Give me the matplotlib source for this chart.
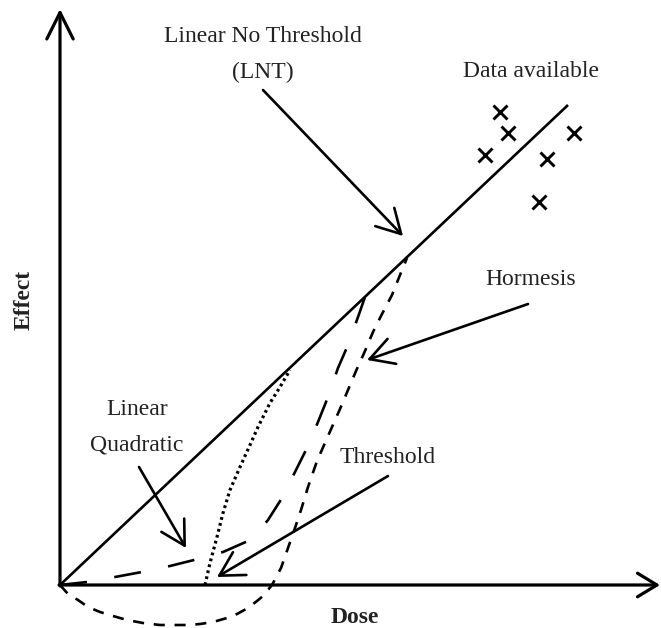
import matplotlib
matplotlib.use("Agg")
import matplotlib.pyplot as plt

plt.rcParams['font.family'] = ['Liberation Serif', 'DejaVu Serif']
plt.rcParams['lines.scale_dashes'] = False

# Linear No Threshold model (straight line through the origin)
lnt_dose = [0, 508]
lnt_effect = [0, 480]

# Linear Quadratic model (long dashes)
lq_dose = [0, 27, 55, 82, 110, 134, 163, 188, 198, 208, 222, 235, 247, 258, 268, 278, 288, 298, 305]
lq_effect = [0, 3, 8, 13, 19, 25, 33, 44, 53, 65, 87, 113, 137, 163, 188, 217, 240, 268, 288]

# Hormesis model (short dashes, dips below zero)
horm_dose = [0, 8, 18, 28, 40, 53, 67, 83, 100, 115, 130, 140, 153, 167, 177, 188, 197, 203,
             212, 221, 228, 235, 241, 248, 257, 272, 280, 288, 296, 305, 313, 322, 332, 340, 347]
horm_effect = [0, -9, -15, -22, -27, -31, -35, -38, -40, -40, -40, -39, -37, -33, -29, -23, -16, -11,
               0, 17, 37, 57, 75, 98, 124, 158, 176, 195, 214, 234, 253, 271, 290, 310, 327]

# Threshold model (dotted)
thr_dose = [145, 150, 157, 163, 170, 180, 190, 198, 210, 220, 230]
thr_effect = [0, 22, 48, 72, 95, 118, 140, 158, 182, 198, 215]

# Observed data points (crosses)
data_dose = [440, 448, 425, 514, 487, 479]
data_effect = [473, 452, 430, 452, 426, 383]

fig = plt.figure(figsize=(6.61, 6.28), dpi=100)
ax = fig.add_axes([0, 0, 1, 1])
ax.set_xlim(-60, 601)
ax.set_ylim(-43, 585)
ax.axis('off')

txt_color = '#222222'
arrow_kw = dict(arrowstyle='->,head_length=1.7,head_width=0.95', lw=1.9,
                color='black', shrinkA=0, shrinkB=0, mutation_scale=10)

# axes arrows
ax.annotate('', xy=(0, 576), xytext=(0, -1),
            arrowprops=dict(arrowstyle='->,head_length=1.9,head_width=0.95', lw=2.3,
                            color='black', shrinkA=0, shrinkB=0, mutation_scale=10))
ax.annotate('', xy=(600, 0), xytext=(-1, 0),
            arrowprops=dict(arrowstyle='->,head_length=1.4,head_width=0.85', lw=2.3,
                            color='black', shrinkA=0, shrinkB=0, mutation_scale=10))

# models
ax.plot(lnt_dose, lnt_effect, color='black', lw=1.9, solid_capstyle='butt')
ax.plot(lq_dose, lq_effect, color='black', lw=1.9, dashes=(19.5, 20))
ax.plot(horm_dose, horm_effect, color='black', lw=1.9, dashes=(8, 7))
ax.plot(thr_dose, thr_effect, color='black', lw=2.3, dashes=(2.0, 2.4))
ax.plot(data_dose, data_effect, ls='none', marker='x', ms=10.5, mew=2.1, color='black')

# labels and pointer arrows
fs = 17
ax.text(203, 543, 'Linear No Threshold', ha='center', va='baseline', fontsize=fs, color=txt_color)
ax.text(203, 507, '(LNT)', ha='center', va='baseline', fontsize=fs, color=txt_color)
ax.annotate('', xy=(343, 349), xytext=(203, 495), arrowprops=arrow_kw)

ax.text(471, 508, 'Data available', ha='center', va='baseline', fontsize=fs, color=txt_color)

ax.text(471, 300, 'Hormesis', ha='center', va='baseline', fontsize=fs, color=txt_color)
ax.annotate('', xy=(307, 225), xytext=(468, 281), arrowprops=arrow_kw)

ax.text(77, 170, 'Linear', ha='center', va='baseline', fontsize=fs, color=txt_color)
ax.text(77, 135, 'Quadratic', ha='center', va='baseline', fontsize=fs, color=txt_color)
ax.annotate('', xy=(126, 37), xytext=(79, 118), arrowprops=arrow_kw)

ax.text(328, 122, 'Threshold', ha='center', va='baseline', fontsize=fs, color=txt_color)
ax.annotate('', xy=(157, 8), xytext=(328, 109), arrowprops=arrow_kw)

ax.text(-36, 285, 'Effect', ha='center', va='center', rotation=90, fontsize=fs,
        fontweight='bold', color=txt_color)
ax.text(295, -38, 'Dose', ha='center', va='baseline', fontsize=fs, fontweight='bold', color=txt_color)

fig.savefig('out.png', dpi=100)
